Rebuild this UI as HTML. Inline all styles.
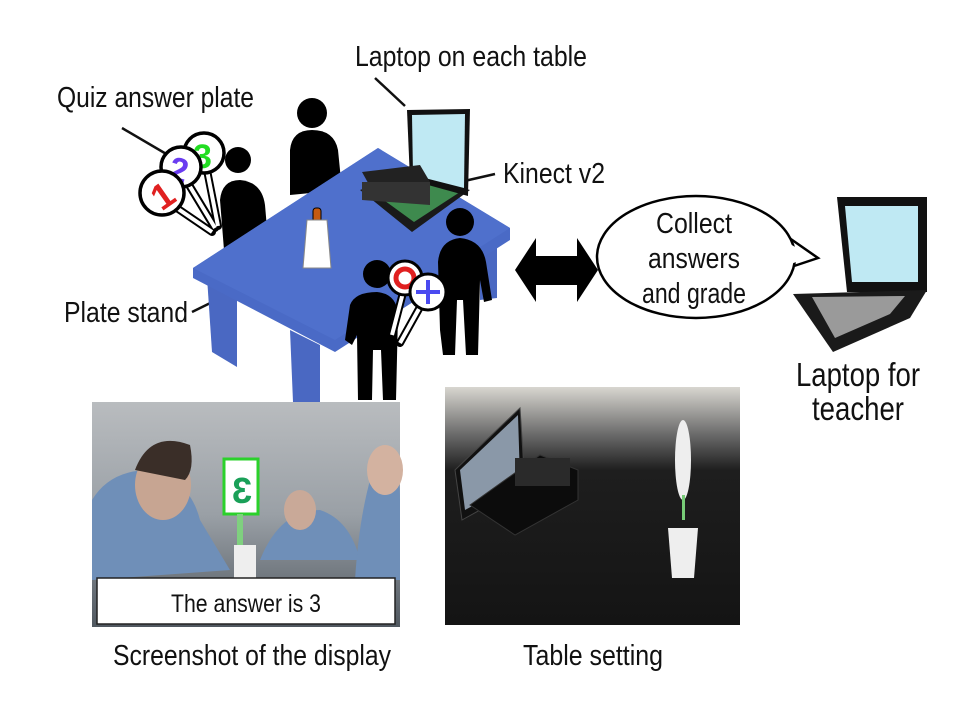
<!DOCTYPE html>
<html><head><meta charset="utf-8"><style>
html,body{margin:0;padding:0;background:#fff;}
svg{display:block;}
text{font-family:"Liberation Sans",sans-serif;fill:#111;}
</style></head><body>
<svg width="960" height="720" viewBox="0 0 960 720" xmlns="http://www.w3.org/2000/svg">
<rect width="960" height="720" fill="#fff"/>
<!-- labels -->
<text x="355" y="66" font-size="29" textLength="232" lengthAdjust="spacingAndGlyphs">Laptop on each table</text>
<text x="57" y="107" font-size="29" textLength="197" lengthAdjust="spacingAndGlyphs">Quiz answer plate</text>
<text x="503" y="183" font-size="29" textLength="102" lengthAdjust="spacingAndGlyphs">Kinect v2</text>
<text x="64" y="322" font-size="29" textLength="124" lengthAdjust="spacingAndGlyphs">Plate stand</text>
<line x1="375" y1="78" x2="405" y2="106" stroke="#111" stroke-width="2.5"/>
<line x1="122" y1="128" x2="168" y2="155" stroke="#111" stroke-width="2.5"/>
<line x1="495" y1="174" x2="425" y2="190" stroke="#111" stroke-width="2.5"/>
<line x1="192" y1="312" x2="312" y2="253" stroke="#111" stroke-width="2.5"/>

<!-- back people -->
<circle cx="312" cy="113" r="15" fill="#000"/>
<path d="M290 195 L290 150 Q292 130 312 130 Q334 130 338 150 L342 190 Z" fill="#000"/>
<circle cx="238" cy="160" r="13" fill="#000"/>
<path d="M224 250 L220 200 Q222 180 240 180 Q262 182 265 205 L268 240 Z" fill="#000"/>
<!-- plates -->
<g stroke="#000" stroke-width="8" stroke-linecap="round"><line x1="165" y1="200" x2="212" y2="232"/><line x1="183" y1="175" x2="215" y2="228"/><line x1="205" y1="160" x2="218" y2="226"/></g>
<g stroke="#fff" stroke-width="4"><line x1="165" y1="200" x2="212" y2="232"/><line x1="183" y1="175" x2="215" y2="228"/><line x1="205" y1="160" x2="218" y2="226"/></g>
<circle cx="204" cy="153" r="20" fill="#fff" stroke="#000" stroke-width="3.5"/>
<text x="193" y="168" font-size="34" font-weight="bold" style="fill:#22dd22">3</text>
<circle cx="181" cy="167" r="20" fill="#fff" stroke="#000" stroke-width="3.5"/>
<text x="170" y="182" font-size="34" font-weight="bold" style="fill:#6a3cf0" transform="rotate(15 181 167)">2</text>
<circle cx="162" cy="193" r="22" fill="#fff" stroke="#000" stroke-width="3.5"/>
<text x="151" y="208" font-size="36" font-weight="bold" style="fill:#e02020" transform="rotate(-35 162 193)">1</text>

<!-- table -->
<polygon points="207,277 237,295 237,367 212,352" fill="#4a68c2"/>
<polygon points="480,236 497,232 497,298 480,300" fill="#4a68c2"/>
<polygon points="290,330 320,345 320,402 293,402" fill="#4a68c2"/>
<polygon points="193,268 378,148 510,228 510,240 335,352 193,278" fill="#4a6ac6"/>
<polygon points="193,268 378,148 510,228 335,340" fill="#4f70cc"/>
<!-- laptop on table -->
<polygon points="360,190 408,173 470,190 412,232" fill="#1a1a1a"/>
<polygon points="370,190 410,178 460,192 414,222" fill="#3e8a4e"/>
<polygon points="407,110 470,109 468,196 410,180" fill="#111"/>
<polygon points="412,115 465,114 464,188 413,175" fill="#bfe9f3"/>
<polygon points="362,172 420,165 430,182 372,190" fill="#222"/>
<polygon points="362,182 430,182 430,205 362,200" fill="#333"/>
<!-- cup -->
<rect x="313" y="208" width="8" height="14" rx="3" fill="#c55a11" stroke="#000"/>
<polygon points="307,220 327,220 331,268 303,268" fill="#fff" stroke="#888"/>

<!-- front people -->
<circle cx="460" cy="222" r="14" fill="#000"/>
<path d="M440 330 L438 262 Q440 240 460 238 Q482 240 486 262 L492 300 L484 302 L480 280 L478 355 L466 355 L463 300 L457 300 L455 355 L443 355 Z" fill="#000"/>
<circle cx="377" cy="274" r="14" fill="#000"/>
<path d="M345 340 L350 305 Q355 292 377 292 Q397 294 398 315 L396 400 L383 400 L381 350 L373 350 L372 400 L358 400 L357 335 L352 345 Z" fill="#000"/>
<g stroke="#000" stroke-width="8" stroke-linecap="round"><line x1="405" y1="285" x2="392" y2="335"/><line x1="425" y1="298" x2="400" y2="343"/></g>
<g stroke="#fff" stroke-width="4"><line x1="405" y1="285" x2="392" y2="335"/><line x1="425" y1="298" x2="400" y2="343"/></g>
<circle cx="405" cy="278" r="17" fill="#fff" stroke="#000" stroke-width="3"/>
<circle cx="405" cy="278" r="9" fill="none" stroke="#e02020" stroke-width="5"/>
<circle cx="428" cy="292" r="18" fill="#fff" stroke="#000" stroke-width="3"/>
<path d="M428 280 V304 M416 292 H440" stroke="#4a4af0" stroke-width="4"/>

<!-- double arrow -->
<polygon points="515,270 536,238 536,256 577,256 577,238 598,270 577,302 577,285 536,285 536,302" fill="#000"/>
<!-- bubble -->
<path d="M785 235 L818 258 L788 268" fill="#fff" stroke="#000" stroke-width="2.5"/>
<ellipse cx="696" cy="257" rx="99" ry="61" fill="#fff" stroke="#000" stroke-width="2.5"/>
<path d="M780 238 L812 257 L784 266" fill="#fff"/>
<text x="694" y="233" font-size="29" text-anchor="middle" textLength="76" lengthAdjust="spacingAndGlyphs">Collect</text>
<text x="694" y="268" font-size="29" text-anchor="middle" textLength="92" lengthAdjust="spacingAndGlyphs">answers</text>
<text x="694" y="303" font-size="29" text-anchor="middle" textLength="104" lengthAdjust="spacingAndGlyphs">and grade</text>
<!-- teacher laptop -->
<polygon points="837,197 927,197 927,292 847,292" fill="#111"/>
<polygon points="845,206 918,206 918,282 852,282" fill="#bfe9f3"/>
<polygon points="793,294 927,290 910,318 833,352" fill="#1a1a1a"/>
<polygon points="812,297 905,296 890,314 835,338" fill="#9a9a9a"/>
<text x="858" y="386" font-size="33" text-anchor="middle" textLength="124" lengthAdjust="spacingAndGlyphs">Laptop for</text>
<text x="858" y="420" font-size="33" text-anchor="middle" textLength="92" lengthAdjust="spacingAndGlyphs">teacher</text>

<!-- photo left -->
<defs>
<linearGradient id="g1" x1="0" y1="0" x2="0" y2="1"><stop offset="0" stop-color="#b9bcbf"/><stop offset="0.5" stop-color="#9aa0a6"/><stop offset="1" stop-color="#505860"/></linearGradient>
<linearGradient id="g2" x1="0" y1="0" x2="0" y2="1"><stop offset="0" stop-color="#d8d6d0"/><stop offset="0.2" stop-color="#6a6a6a"/><stop offset="0.35" stop-color="#1e1e1e"/><stop offset="1" stop-color="#141414"/></linearGradient>
</defs>
<rect x="92" y="402" width="308" height="225" fill="url(#g1)"/>
<path d="M92 500 Q110 470 150 470 Q190 480 200 520 L230 570 L92 580 Z" fill="#6f8fb8"/>
<ellipse cx="163" cy="485" rx="28" ry="35" fill="#c7a592"/>
<path d="M135 470 Q150 430 190 445 Q195 470 185 480 Z" fill="#3a2e28"/>
<path d="M260 560 Q280 510 320 510 Q350 520 360 560 Z" fill="#6f8fb8"/>
<ellipse cx="300" cy="510" rx="16" ry="20" fill="#c9a998"/>
<path d="M355 580 Q360 500 380 450 Q400 445 400 500 L400 580 Z" fill="#6f8fb8"/>
<ellipse cx="385" cy="470" rx="18" ry="25" fill="#d3b2a0"/>
<rect x="224" y="459" width="34" height="55" fill="#fff" stroke="#2bd12b" stroke-width="3"/>
<text x="230" y="503" font-size="36" font-weight="bold" style="fill:#1aa058" transform="scale(-1,1) translate(-482,0)">3</text>
<rect x="237" y="514" width="6" height="35" fill="#7fd07f"/>
<rect x="234" y="545" width="22" height="33" fill="#eee"/>
<rect x="97" y="578" width="298" height="46" fill="#fff" stroke="#222" stroke-width="1.5"/>
<text x="246" y="612" font-size="25" text-anchor="middle" textLength="150" lengthAdjust="spacingAndGlyphs">The answer is 3</text>
<!-- photo right -->
<rect x="445" y="387" width="295" height="238" fill="url(#g2)"/>
<polygon points="455,470 520,408 525,485 462,520" fill="#111" stroke="#444"/>
<polygon points="460,470 518,415 520,480 465,510" fill="#8a98a8"/>
<polygon points="470,505 540,455 578,470 578,500 515,535" fill="#0c0c0c" stroke="#333"/>
<rect x="515" y="458" width="55" height="28" fill="#2a2a2a"/>
<ellipse cx="683" cy="460" rx="8" ry="40" fill="#eee"/>
<rect x="682" y="495" width="3" height="25" fill="#7c7"/>
<polygon points="668,528 698,528 694,578 672,578" fill="#eee"/>
<text x="252" y="665" font-size="29" text-anchor="middle" textLength="278" lengthAdjust="spacingAndGlyphs">Screenshot of the display</text>
<text x="593" y="665" font-size="29" text-anchor="middle" textLength="140" lengthAdjust="spacingAndGlyphs">Table setting</text>
</svg>
</body></html>
